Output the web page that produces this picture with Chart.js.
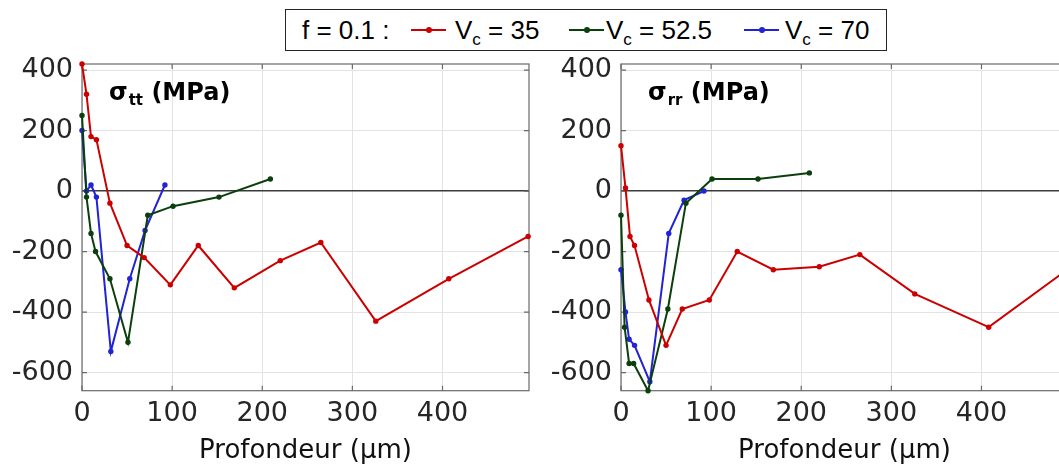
<!DOCTYPE html>
<html>
<head>
<meta charset="utf-8">
<script src="https://cdn.jsdelivr.net/npm/chart.js@4.4.0/dist/chart.umd.min.js"></script>
<style>
  html, body { margin: 0; padding: 0; background: #fff; overflow: hidden; }
  body { width: 1059px; height: 464px; position: relative; }
  canvas { position: absolute; top: 0; }
  #left { left: 0; }
  #right { left: 539px; }
  #legend {
    position: absolute; left: 285px; top: 9px; width: 600px; height: 40px;
    border: 1px solid #262626; background: #fff;
    font-family: "Liberation Sans", Arial, sans-serif; font-size: 26px; color: #000;
  }
  #legend .txt { position: absolute; top: 0; line-height: 40px; white-space: nowrap; }
  #legend .txt sub { font-size: 17px; vertical-align: -6px; line-height: 0; }
  #legend .smp { position: absolute; top: 19px; height: 2px; width: 35px; }
  #legend .smp i { position: absolute; left: 15px; top: -2px; width: 6px; height: 6px; border-radius: 50%; }
</style>
</head>
<body>
<div id="legend"></div>
<canvas id="left" width="535" height="464"></canvas>
<canvas id="right" width="535" height="464"></canvas>
<script>
// tick labels
const xTicks = [0, 100, 200, 300, 400];
const yTicks = [-600, -400, -200, 0, 200, 400];

// legend: feed f and cutting speeds
const feedLabel = 'f = 0.1 :';
const speeds = ['35', '52.5', '70'];

// sigma_tt (left panel)
const depthTtRed = [0, 5, 10, 16, 31, 50, 69, 98, 129, 169, 220, 265, 326, 407, 495];
const ttRed = [420, 320, 180, 170, -40, -180, -220, -310, -180, -320, -230, -170, -430, -290, -150];
const depthTtGreen = [0, 5, 10, 15, 31, 51, 73, 101, 152, 209];
const ttGreen = [250, -20, -140, -200, -290, -500, -80, -50, -20, 40];
const depthTtBlue = [0, 5, 10, 16, 32, 53, 70, 92];
const ttBlue = [200, 0, 20, -20, -530, -290, -130, 20];

// sigma_rr (right panel)
const depthRrRed = [0, 5, 10, 15, 31, 50, 68, 98, 129, 169, 220, 265, 326, 408, 495];
const rrRed = [150, 10, -150, -180, -360, -510, -390, -360, -200, -260, -250, -210, -340, -450, -260];
const depthRrGreen = [0, 4, 9, 14, 30, 52, 72, 101, 152, 209];
const rrGreen = [-80, -450, -570, -570, -660, -390, -40, 40, 40, 60];
const depthRrBlue = [0, 5, 9, 15, 32, 53, 70, 92];
const rrBlue = [-260, -400, -490, -510, -630, -140, -30, 0];

const colors = ['#cc0000', '#0b3f0b', '#2323d6'];

// legend, built from the labels above
const legendPos = [[125, 169], [283, 320], [458, 499]];
const legend = document.getElementById('legend');
legend.innerHTML = '<span class="txt" style="left:16px">' + feedLabel + '</span>';
speeds.forEach((s, i) => {
    legend.innerHTML +=
        '<span class="smp" style="left:' + legendPos[i][0] + 'px;background:' + colors[i] + '">' +
        '<i style="background:' + colors[i] + '"></i></span>' +
        '<span class="txt" style="left:' + legendPos[i][1] + 'px">V<sub>c</sub> = ' + s + '</span>';
});

function pts(xs, ys) {
    return xs.map((x, i) => ({x: x, y: ys[i]}));
}

const frame = {
    id: 'frame',
    beforeDatasetsDraw(chart) {
        const {ctx, chartArea: a, scales} = chart;
        ctx.save();
        ctx.strokeStyle = '#6a6a6a';
        ctx.lineWidth = 1.2;
        ctx.strokeRect(a.left, a.top, a.right - a.left, a.bottom - a.top);
        ctx.beginPath();
        xTicks.forEach(v => {
            const px = scales.x.getPixelForValue(v);
            ctx.moveTo(px, a.bottom); ctx.lineTo(px, a.bottom - 5);
            ctx.moveTo(px, a.top); ctx.lineTo(px, a.top + 5);
        });
        yTicks.forEach(v => {
            const py = scales.y.getPixelForValue(v);
            ctx.moveTo(a.left, py); ctx.lineTo(a.left + 5, py);
            ctx.moveTo(a.right, py); ctx.lineTo(a.right - 5, py);
        });
        ctx.stroke();
        ctx.restore();
    }
};

const stressTitle = {
    id: 'stressTitle',
    afterDraw(chart, args, opts) {
        const {ctx, chartArea: a} = chart;
        let x = a.left + 27;
        const y = a.top + 36;
        ctx.save();
        ctx.fillStyle = '#000';
        ctx.textBaseline = 'alphabetic';
        ctx.font = 'bold 24px "DejaVu Sans"';
        ctx.fillText('σ', x, y);
        x += ctx.measureText('σ').width + 1;
        ctx.font = 'bold 15px "DejaVu Sans"';
        ctx.fillText(opts.sub, x, y + 5);
        x += ctx.measureText(opts.sub).width;
        ctx.font = 'bold 24px "DejaVu Sans"';
        ctx.fillText(' (MPa)', x, y);
        ctx.restore();
    }
};

function makeChart(id, sets, sub) {
    const tickFont = {family: 'DejaVu Sans', size: 27};
    const config = {
        type: 'line',
        data: {
            datasets: sets.map((s, i) => ({
                label: 'Vc = ' + speeds[i],
                data: pts(s[0], s[1]),
                borderColor: colors[i],
                backgroundColor: colors[i],
                borderWidth: 2,
                pointRadius: 2.7,
                pointHoverRadius: 2.7,
                pointBorderWidth: 0,
                tension: 0,
                clip: 8
            }))
        },
        options: {
            responsive: false,
            animation: false,
            events: [],
            layout: {padding: {top: 64, right: 6, left: 0, bottom: 0}},
            plugins: {
                legend: {display: false},
                tooltip: {enabled: false},
                stressTitle: {sub: sub}
            },
            scales: {
                x: {
                    type: 'linear',
                    min: 0,
                    max: 496,
                    afterBuildTicks: s => { s.ticks = xTicks.map(v => ({value: v})); },
                    afterFit: s => { s.height = 73.3; },
                    border: {display: false},
                    grid: {color: '#e3e3e3', drawTicks: false},
                    ticks: {color: '#262626', font: tickFont, padding: 7, maxRotation: 0},
                    title: {
                        display: true,
                        text: 'Profondeur (µm)',
                        color: '#111',
                        font: {family: 'DejaVu Sans', size: 26, lineHeight: 1.0},
                        padding: {top: 0, bottom: 0}
                    }
                },
                y: {
                    min: -660,
                    max: 420,
                    afterBuildTicks: s => { s.ticks = yTicks.map(v => ({value: v})); },
                    afterFit: s => { s.width = 82; },
                    border: {display: false},
                    grid: {
                        color: c => c.tick && c.tick.value === 0 ? '#3a3a3a' : '#e3e3e3',
                        lineWidth: c => c.tick && c.tick.value === 0 ? 1.6 : 1,
                        drawTicks: false
                    },
                    ticks: {color: '#262626', font: tickFont, padding: 9}
                }
            }
        },
        plugins: [frame, stressTitle]
    };
    return new Chart(document.getElementById(id), config);
}

makeChart('left', [[depthTtRed, ttRed], [depthTtGreen, ttGreen], [depthTtBlue, ttBlue]], 'tt');
makeChart('right', [[depthRrRed, rrRed], [depthRrGreen, rrGreen], [depthRrBlue, rrBlue]], 'rr');
</script>
</body>
</html>
